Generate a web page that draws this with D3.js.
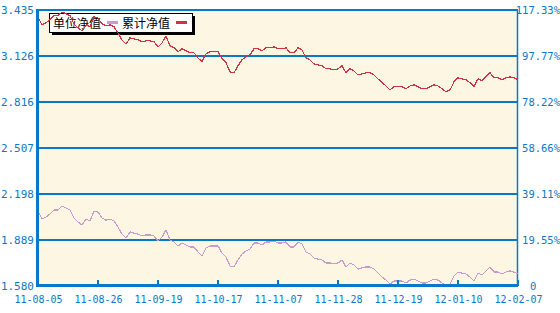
<!DOCTYPE html>
<html>
<head>
<meta charset="utf-8">
<script src="https://cdn.jsdelivr.net/npm/d3@7/dist/d3.min.js"></script>
<style>
    body { margin: 0; background: #fff; }
    svg { display: block; }
</style>
</head>
<body>
<div id="chart"></div>
<script>
// x axis labels, spread evenly over the trading days
const tickLabels = ["11-08-05", "11-08-26", "11-09-19", "11-10-17", "11-11-07", "11-11-28", "11-12-19", "12-01-10", "12-02-07"];

// left axis (NAV) and right axis (percent) tick values
const leftTicks = [1.580, 1.889, 2.198, 2.507, 2.816, 3.126, 3.435];
const rightTicks = [0, 19.55, 39.11, 58.66, 78.22, 97.77, 117.33];

const seriesNames = ["单位净值", "累计净值"];

// unit NAV, one value per trading day
const unitNav = [
    2.084, 2.030, 2.044, 2.064, 2.091, 2.091, 2.117, 2.104, 2.091, 2.037,
    2.010, 1.990, 2.030, 2.017, 2.084, 2.077, 2.037, 2.023, 2.030, 2.017,
    1.976, 1.929, 1.902, 1.943, 1.936, 1.929, 1.916, 1.923, 1.923, 1.916,
    1.882, 1.909, 1.956, 1.889, 1.876, 1.849, 1.869, 1.855, 1.842, 1.842,
    1.808, 1.782, 1.835, 1.849, 1.849, 1.849, 1.802, 1.775, 1.714, 1.708,
    1.755, 1.795, 1.815, 1.829, 1.869, 1.869, 1.855, 1.876, 1.876, 1.882,
    1.869, 1.869, 1.876, 1.842, 1.842, 1.876, 1.862, 1.808, 1.795, 1.768,
    1.761, 1.755, 1.735, 1.735, 1.728, 1.735, 1.755, 1.708, 1.735, 1.721,
    1.694, 1.701, 1.708, 1.708, 1.694, 1.667, 1.641, 1.620, 1.593, 1.614,
    1.614, 1.614, 1.600, 1.620, 1.627, 1.614, 1.600, 1.600, 1.614, 1.627,
    1.620, 1.600, 1.580, 1.593, 1.647, 1.674, 1.667, 1.661, 1.641, 1.614,
    1.667, 1.654, 1.681, 1.708, 1.674, 1.674, 1.661, 1.674, 1.681, 1.674,
    1.661
];

// cumulative NAV, same days
const totalNav = [
    3.389, 3.335, 3.349, 3.369, 3.396, 3.396, 3.422, 3.409, 3.396, 3.342,
    3.315, 3.295, 3.335, 3.322, 3.389, 3.382, 3.342, 3.328, 3.335, 3.322,
    3.281, 3.234, 3.207, 3.248, 3.241, 3.234, 3.221, 3.228, 3.228, 3.221,
    3.187, 3.214, 3.261, 3.194, 3.181, 3.154, 3.174, 3.160, 3.147, 3.147,
    3.113, 3.087, 3.140, 3.154, 3.154, 3.154, 3.107, 3.080, 3.019, 3.013,
    3.060, 3.100, 3.120, 3.134, 3.174, 3.174, 3.160, 3.181, 3.181, 3.187,
    3.174, 3.174, 3.181, 3.147, 3.147, 3.181, 3.167, 3.113, 3.100, 3.073,
    3.066, 3.060, 3.040, 3.040, 3.033, 3.040, 3.060, 3.013, 3.040, 3.026,
    2.999, 3.006, 3.013, 3.013, 2.999, 2.972, 2.946, 2.925, 2.898, 2.919,
    2.919, 2.919, 2.905, 2.925, 2.932, 2.919, 2.905, 2.905, 2.919, 2.932,
    2.925, 2.905, 2.885, 2.898, 2.952, 2.979, 2.972, 2.966, 2.946, 2.919,
    2.972, 2.959, 2.986, 3.013, 2.979, 2.979, 2.966, 2.979, 2.986, 2.979,
    2.966
];

const blue = "#0a78c8";
const monoFont = "'DejaVu Sans Mono', monospace";

const width = 560, height = 313;
const plot = { left: 38, right: 518, top: 10, bottom: 286 };

const svg = d3.select("#chart").append("svg")
    .attr("width", width)
    .attr("height", height);

const x = d3.scaleLinear()
    .domain([0, unitNav.length - 1])
    .range([plot.left, plot.right]);

const y = d3.scaleLinear()
    .domain([leftTicks[0], leftTicks[leftTicks.length - 1]])
    .range([plot.bottom, plot.top]);

const yPct = d3.scaleLinear()
    .domain([rightTicks[0], rightTicks[rightTicks.length - 1]])
    .range([plot.bottom, plot.top]);

const tickPos = tickLabels.map((d, i) => i * (unitNav.length - 1) / (tickLabels.length - 1));

/*
 *  Plot background and grid
 */
svg.append("rect")
    .attr("x", plot.left - 1)
    .attr("y", plot.top)
    .attr("width", plot.right - plot.left + 1)
    .attr("height", plot.bottom - plot.top)
    .attr("fill", "#fdf6e3");

svg.append("g").selectAll("line")
    .data(leftTicks)
    .join("line")
    .attr("x1", plot.left - 1)
    .attr("x2", plot.right)
    .attr("y1", d => y(d))
    .attr("y2", d => y(d))
    .attr("stroke", blue)
    .attr("stroke-width", 2)
    .attr("shape-rendering", "crispEdges");

// right border
svg.append("line")
    .attr("x1", plot.right - 0.5).attr("x2", plot.right - 0.5)
    .attr("y1", plot.top).attr("y2", plot.bottom)
    .attr("stroke", blue)
    .attr("stroke-width", 1.5);

/*
 *  Legend (sits under the lines)
 */
const legend = svg.append("g");
legend.append("rect")
    .attr("x", 52).attr("y", 16).attr("width", 143).attr("height", 19)
    .attr("fill", "#000");
legend.append("rect")
    .attr("x", 49.5).attr("y", 13.5).attr("width", 143).attr("height", 19)
    .attr("fill", "#fff")
    .attr("stroke", "#000")
    .attr("stroke-width", 1);

const legendColors = ["#cc99cc", "#cc3344"];
const legendX = [53, 122];
seriesNames.forEach((name, i) => {
    legend.append("text")
        .attr("x", legendX[i])
        .attr("y", 28)
        .attr("font-family", "'Noto Sans CJK SC', sans-serif")
        .attr("font-size", 12)
        .attr("fill", "#000")
        .text(name);
    legend.append("rect")
        .attr("x", legendX[i] + 54)
        .attr("y", 21)
        .attr("width", 11)
        .attr("height", 3)
        .attr("fill", legendColors[i]);
});

/*
 *  Series
 */
const line = d3.line()
    .x((d, i) => x(i))
    .y(d => y(d));

svg.append("path")
    .datum(unitNav)
    .attr("d", line)
    .attr("fill", "none")
    .attr("stroke", legendColors[0])
    .attr("stroke-width", 1.2)
    .attr("shape-rendering", "crispEdges");

svg.append("path")
    .datum(totalNav)
    .attr("d", line)
    .attr("fill", "none")
    .attr("stroke", legendColors[1])
    .attr("stroke-width", 1.2)
    .attr("shape-rendering", "crispEdges");

/*
 *  Axes
 */
const leftAxis = svg.append("g")
    .attr("transform", "translate(" + (plot.left - 1) + ",0)")
    .call(d3.axisLeft(y).tickValues(leftTicks).tickFormat(d3.format(".3f")).tickSize(0).tickPadding(3));
leftAxis.select(".domain").remove();
leftAxis.selectAll("text")
    .attr("font-family", monoFont)
    .attr("font-size", 11)
    .attr("fill", blue);

const rightAxis = svg.append("g")
    .attr("transform", "translate(" + (width + 1) + ",0)")
    .call(d3.axisLeft(yPct).tickValues(rightTicks)
        .tickFormat(d => d === 0 ? "0" : d3.format(".2f")(d) + "%")
        .tickSize(0).tickPadding(1));
rightAxis.select(".domain").remove();
rightAxis.selectAll("text")
    .attr("font-family", monoFont)
    .attr("font-size", 10.5)
    .attr("fill", blue)
    .filter(d => d === 0)
    .attr("x", -31)
    .attr("text-anchor", "start");

const bottomAxis = svg.append("g")
    .attr("transform", "translate(0," + plot.bottom + ")")
    .call(d3.axisBottom(x).tickValues(tickPos).tickFormat((d, i) => tickLabels[i]).tickSize(0).tickPadding(10));
bottomAxis.select(".domain").remove();
bottomAxis.selectAll("text")
    .attr("font-family", monoFont)
    .attr("font-size", 10)
    .attr("fill", blue);

// small upward tick marks
svg.append("g").selectAll("rect")
    .data(tickPos)
    .join("rect")
    .attr("x", d => Math.round(x(d)) - 1)
    .attr("y", plot.bottom - 6)
    .attr("width", 2)
    .attr("height", 6)
    .attr("fill", blue);

// thick left and bottom axis lines
svg.append("rect")
    .attr("x", plot.left - 2).attr("y", plot.top - 1)
    .attr("width", 3).attr("height", plot.bottom - plot.top + 2)
    .attr("fill", blue);
svg.append("rect")
    .attr("x", plot.left - 2).attr("y", plot.bottom - 2)
    .attr("width", plot.right - plot.left + 2).attr("height", 3)
    .attr("fill", blue);
</script>
</body>
</html>
